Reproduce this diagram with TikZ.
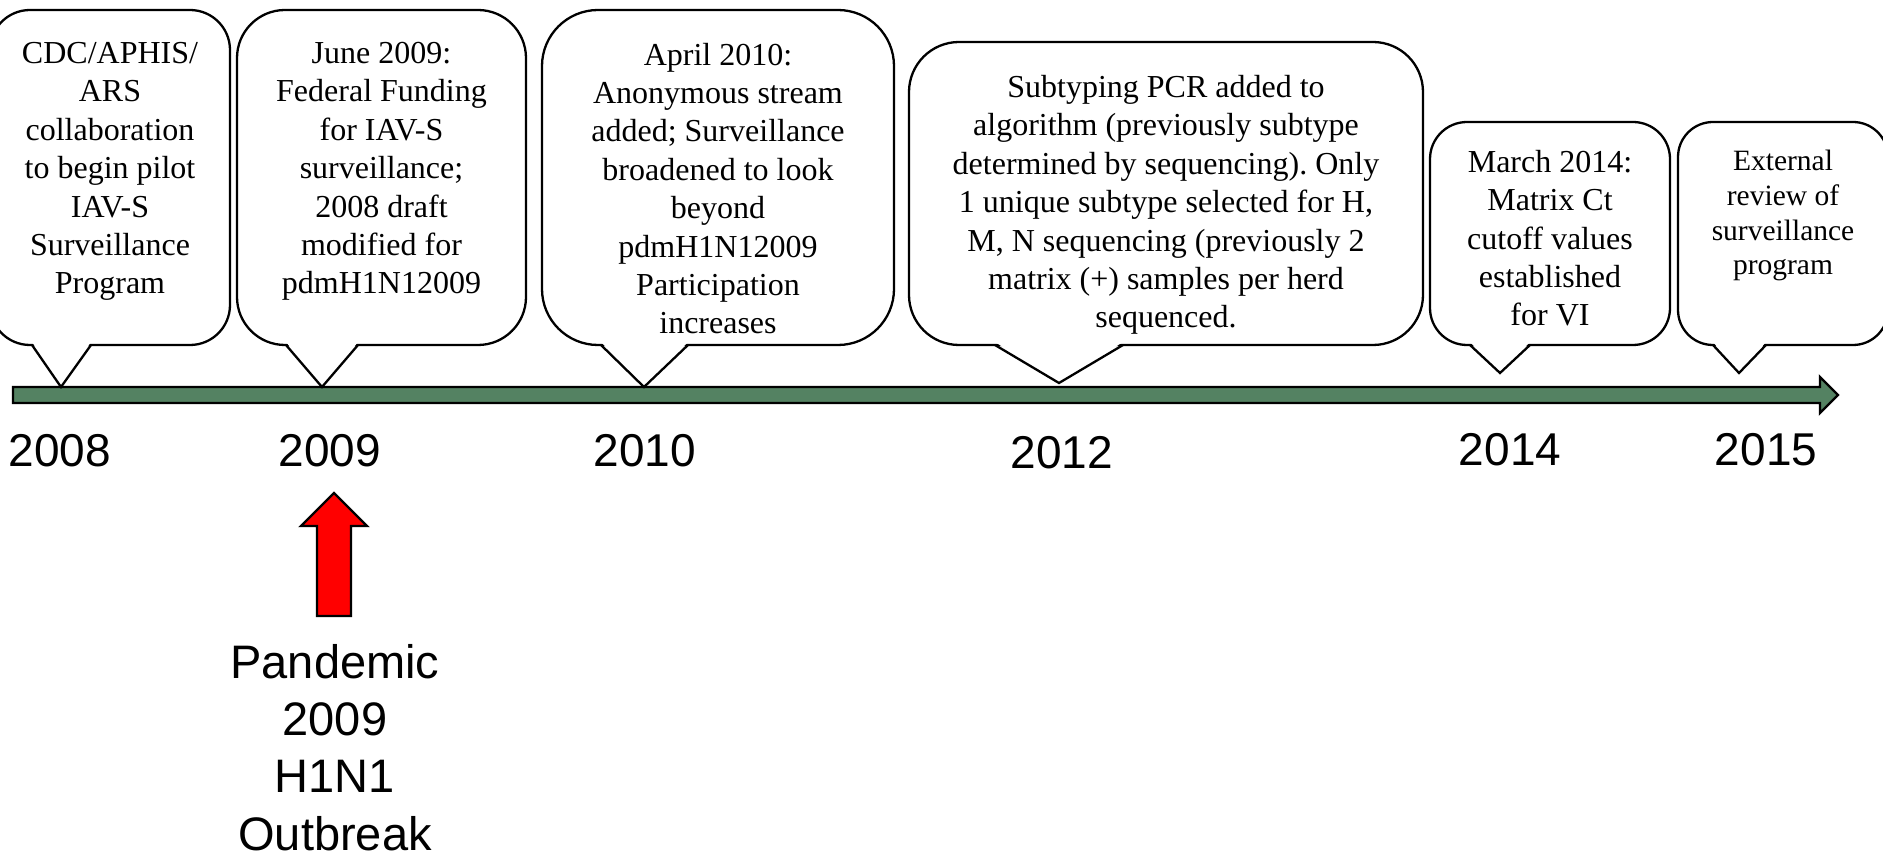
\documentclass[tikz,border=0pt]{standalone}
\usepackage{fontspec}
\setmainfont{Liberation Serif}
\newfontfamily\arialfont{Liberation Sans}
\definecolor{bargreen}{RGB}{84,130,98}
\frenchspacing
\newcommand\mycallout[8]{%
  \draw[line width=2.3pt, fill=white, rounded corners=#5] (#1,#2) rectangle (#3,#4);
  \fill[white] (#6,#4-3) -- (#7,#4-3) -- (#8) -- cycle;
  \draw[line width=2.3pt, line join=miter] (#6,#4) -- (#8) -- (#7,#4);
}
\begin{document}
\begin{tikzpicture}[x=1pt,y=-1pt]
\useasboundingbox (0,0) rectangle (1883,858);
\tikzset{
  boxtext/.style={align=center, inner sep=0pt, anchor=base, font=\frenchspacing\fontsize{32}{38.4}\selectfont},
  yearlabel/.style={anchor=base, inner sep=0pt, font=\arialfont\fontsize{46}{55}\selectfont},
}
% timeline bar
\draw[line width=2.3pt, fill=bargreen, line join=miter] (13,387) -- (1820,387) -- (1820,377) -- (1838,395) -- (1820,413) -- (1820,403) -- (13,403) -- cycle;
% tips
\coordinate (t2008) at (61,387);
\coordinate (t2009) at (322,387);
\coordinate (t2010) at (644,387);
\coordinate (t2012) at (1059,383);
\coordinate (t2014) at (1500,373);
\coordinate (t2015) at (1739,373);
% callouts
\mycallout{-10}{10}{230}{345}{40}{32}{91}{t2008}
\mycallout{237}{10}{526}{345}{48}{286}{358}{t2009}
\mycallout{542}{10}{894}{345}{56}{601}{688}{t2010}
\mycallout{909}{42}{1423}{345}{50}{995}{1123}{t2012}
\mycallout{1430}{122}{1670}{345}{37}{1470}{1530}{t2014}
\mycallout{1678}{122}{1888}{345}{35}{1713}{1766}{t2015}
% texts (anchor = baseline of last line)
\node[boxtext] (b2008) at (110,294) {CDC/APHIS/\\ARS\\collaboration\\to begin pilot\\IAV-S\\Surveillance\\Program};
\node[boxtext] (b2009) at (381.5,294) {June 2009:\\Federal Funding\\for IAV-S\\surveillance;\\2008 draft\\modified for\\pdmH1N12009};
\node[boxtext] (b2010) at (718,334) {April 2010:\\Anonymous stream\\added; Surveillance\\broadened to look\\beyond\\pdmH1N12009\\Participation\\increases};
\node[boxtext] (b2012) at (1166,328) {Subtyping PCR added to\\algorithm (previously subtype\\determined by sequencing). Only\\1 unique subtype selected for H,\\M, N sequencing (previously 2\\matrix (+) samples per herd\\sequenced.};
\node[boxtext] (b2014) at (1550,326) {March 2014:\\Matrix Ct\\cutoff values\\established\\for VI};
\node[boxtext, font=\frenchspacing\fontsize{29.5}{34.7}\selectfont] (b2015) at (1783,275) {External\\review of\\surveillance\\program};
% years
\node[yearlabel] (y2008) at (60,467) {2008};
\node[yearlabel] (y2009) at (330,467) {2009};
\node[yearlabel] (y2010) at (645,467) {2010};
\node[yearlabel] (y2012) at (1062,469) {2012};
\node[yearlabel] (y2014) at (1510,466) {2014};
\node[yearlabel] (y2015) at (1766,466) {2015};
% red arrow
\draw[line width=2.3pt, fill=red, line join=miter] (317,616) -- (317,526) -- (301,526) -- (334,493) -- (367,526) -- (351,526) -- (351,616) -- cycle;
\node[align=center, inner sep=0pt, anchor=base, font=\arialfont\fontsize{47}{57.3}\selectfont] (pandemic) at (335,850) {Pandemic\\2009\\H1N1\\Outbreak};
\end{tikzpicture}
\end{document}
